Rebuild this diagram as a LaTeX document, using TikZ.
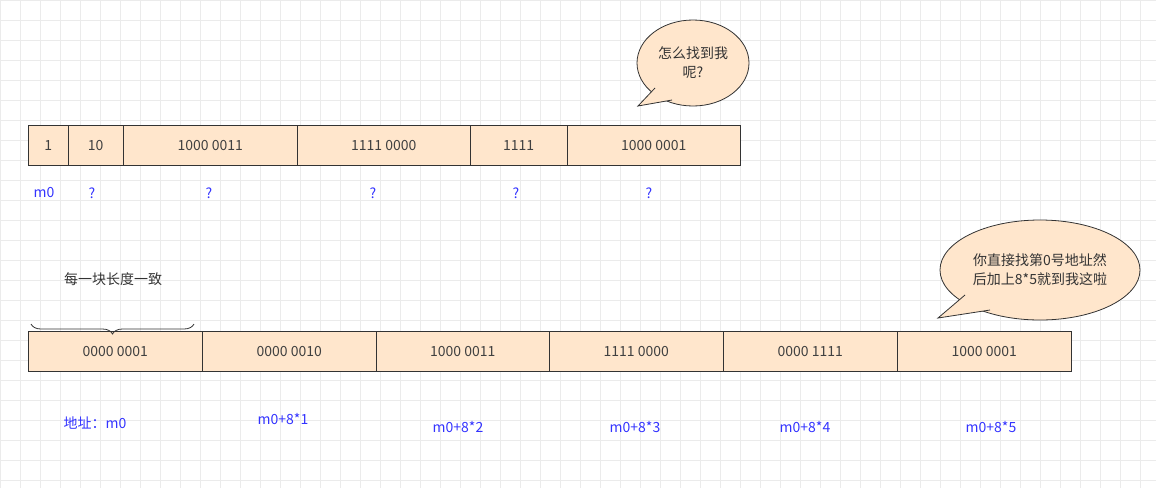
\documentclass[tikz,border=0pt]{standalone}
\usepackage{fontspec}
\setmainfont{Noto Sans CJK SC}
\usepackage{xcolor}
\usepackage{tikz}
\usetikzlibrary{positioning,calc,decorations.pathreplacing}
\definecolor{cellfill}{HTML}{FFE6CC}
\definecolor{addrblue}{HTML}{3333FF}

\tikzset{
    cell/.style={draw=black!80,fill=cellfill,inner sep=0pt,minimum height=40pt,anchor=north west,font=\fontsize{14}{16}\selectfont,text=black!75},
    addr/.style={text=addrblue,font=\fontsize{14}{16}\selectfont},
    bubble/.style={draw=black!80,fill=cellfill,thick}
}

\begin{document}
\begin{tikzpicture}[x=1pt,y=-1pt]
    \useasboundingbox (0,0) rectangle (1156,488);
    % background grid
    \foreach \gx in {0,20,...,1156} \draw[black!8] (\gx,0) -- (\gx,488);
    \foreach \gy in {0,20,...,488} \draw[black!8] (0,\gy) -- (1156,\gy);
    % top row
    \node[cell,minimum width=40pt] (t1) at (28,125) {1};
    \node[cell,minimum width=55pt] (t2) at (68,125) {10};
    \node[cell,minimum width=174pt] (t3) at (123,125) {1000 0011};
    \node[cell,minimum width=173pt] (t4) at (297,125) {1111 0000};
    \node[cell,minimum width=97pt] (t5) at (470,125) {1111};
    \node[cell,minimum width=173pt] (t6) at (567,125) {1000 0001};
    \node[addr] (a1) at (44,193) {m0};
    \node[addr] (a2) at (92,193) {?};
    \node[addr] (a3) at (209,193) {?};
    \node[addr] (a4) at (373,193) {?};
    \node[addr] (a5) at (516,193) {?};
    \node[addr] (a6) at (649,193) {?};
    % top bubble
    \draw[bubble] (693,63) ellipse (56 and 43);
    \fill[cellfill] (655,88) -- (638,106) -- (672,100) -- cycle;
    \draw[black!80,thick] (655,88) -- (638,106) -- (672,100);
    \node[align=center,font=\fontsize{14}{19}\selectfont,text=black!80] (q1) at (693,63) {怎么找到我\\呢?};
    % bottom row
    \node[cell,minimum width=174pt] (b1) at (28,331) {0000 0001};
    \node[cell,minimum width=174pt] (b2) at (202,331) {0000 0010};
    \node[cell,minimum width=173pt] (b3) at (376,331) {1000 0011};
    \node[cell,minimum width=174pt] (b4) at (549,331) {1111 0000};
    \node[cell,minimum width=174pt] (b5) at (723,331) {0000 1111};
    \node[cell,minimum width=174pt] (b6) at (897,331) {1000 0001};
    \node[addr] (m1) at (95,423) {地址：m0};
    \node[addr] (m2) at (283,419) {m0+8*1};
    \node[addr] (m3) at (458,427) {m0+8*2};
    \node[addr] (m4) at (635,427) {m0+8*3};
    \node[addr] (m5) at (805,427) {m0+8*4};
    \node[addr] (m6) at (991,427) {m0+8*5};
    % brace over first block
    \coordinate (brL) at (31,324);
    \coordinate (brR) at (194,324);
    \draw[black!80,thick,decorate,decoration={brace,amplitude=10pt}] (brR) -- (brL);
    \node[font=\fontsize{14}{16}\selectfont,text=black!80] (same) at (113,279) {每一块长度一致};
    % bottom bubble
    \draw[bubble] (1040,270) ellipse (100 and 50);
    \fill[cellfill] (965,295) -- (938,318) -- (990,310) -- cycle;
    \draw[black!80,thick] (965,295) -- (938,318) -- (990,310);
    \node[align=center,font=\fontsize{14}{19}\selectfont,text=black!80] (q2) at (1040,270) {你直接找第0号地址然\\后加上8*5就到我这啦};
\end{tikzpicture}
\end{document}
